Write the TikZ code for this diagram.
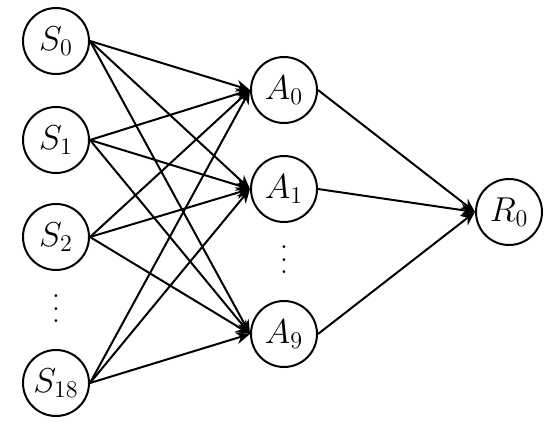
\documentclass[tikz,border=0pt]{standalone}
\usetikzlibrary{arrows.meta}
\newcommand{\myvdots}{\vbox{\baselineskip6.25pt\lineskiplimit0pt\hbox{.}\hbox{.}\hbox{.}}}
\begin{document}
\begin{tikzpicture}[x=0.5pt,y=-0.5pt,
  neuron/.style={draw,circle,line width=1pt,minimum size=33pt,inner sep=0pt,font=\LARGE},
  conn/.style={line width=1pt,-{Stealth[length=7pt,width=6pt]}},
  vdots/.style={font=\Large,inner sep=0pt}]
\useasboundingbox (0,0) rectangle (550,427);
\node[neuron] (s0) at (56,41) {$S_0$};
\node[neuron] (s1) at (56,140) {$S_1$};
\node[neuron] (s2) at (56,237) {$S_2$};
\node[vdots] (sd) at (56,309) {\myvdots};
\node[neuron] (s18) at (56,383) {$S_{18}$};
\node[neuron] (a0) at (284,90) {$A_0$};
\node[neuron] (a1) at (284,189) {$A_1$};
\node[vdots] (ad) at (284,260) {\myvdots};
\node[neuron] (a9) at (284,334) {$A_9$};
\node[neuron] (r0) at (509,212) {$R_0$};
\foreach \s in {s0,s1,s2,s18}
  \foreach \a in {a0,a1,a9}
    \draw[conn] (\s.east) -- (\a.west);
\foreach \a in {a0,a1,a9}
  \draw[conn] (\a.east) -- (r0.west);
\end{tikzpicture}
\end{document}
